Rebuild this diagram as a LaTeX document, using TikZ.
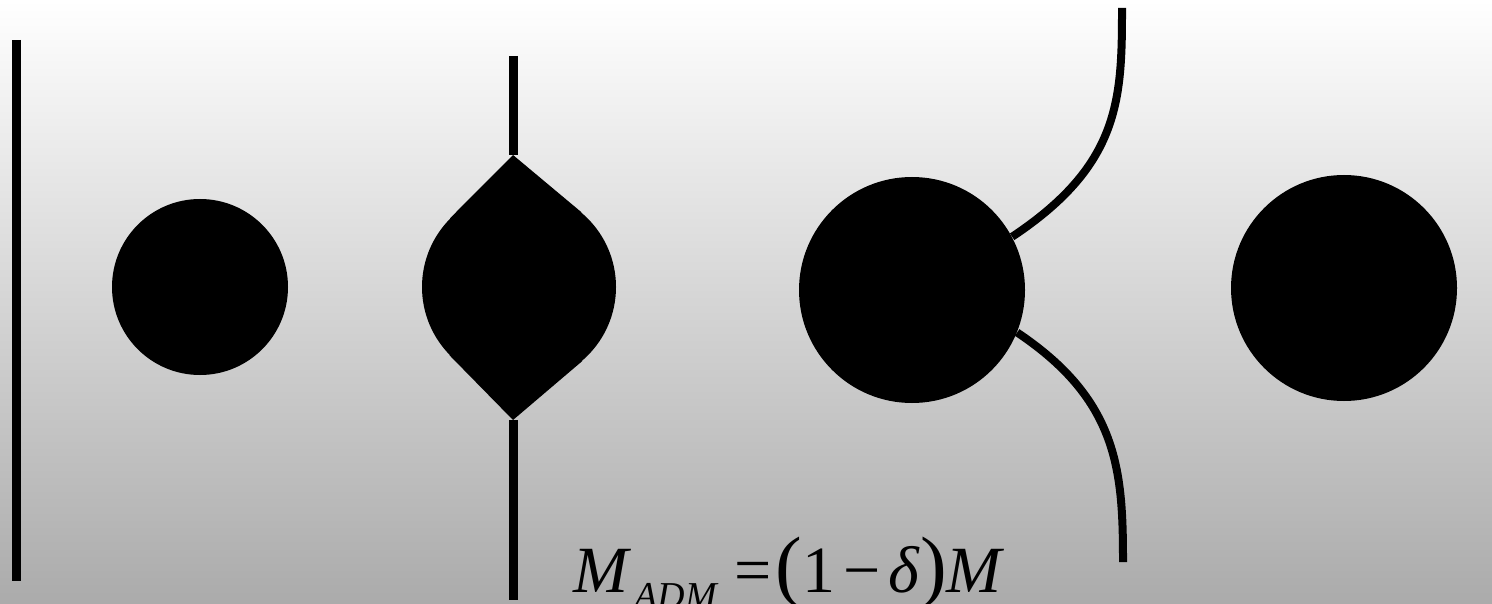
\documentclass[tikz,border=0pt]{standalone}
\usepackage{fontspec}
\setmainfont{Liberation Serif}
\usetikzlibrary{calc}
\begin{document}
\begin{tikzpicture}[x=0.5pt,y=-0.5pt,hole/.style={circle,fill=black,inner sep=0pt,minimum size=#1},rod/.style={line width=4.5pt,black},jet/.style={line width=4pt,black}]
\shade[top color=white,bottom color=black!33] (0,0) rectangle (1492,604);
\useasboundingbox (0,0) rectangle (1492,604);
% bare string
\coordinate (wallTop) at (16.5,40);\coordinate (wallBot) at (16.5,581);
\draw[rod](wallTop)--(wallBot);
% black holes
\node[hole=88pt] (bhA) at (200,287) {};
\node[hole=97pt] (bhB) at (519,287) {};
\node[hole=113pt] (bhC) at (912,290) {};
\node[hole=113pt] (bhD) at (1344,288) {};
% pinched hole on a string
\coordinate (lensTop) at (513,155);\coordinate (lensBot) at (513,420);
\coordinate (stemTop) at (513,56);\coordinate (stemBot) at (513,600);
\fill (lensTop)--(tangent cs:node=bhB,point={(lensTop)},solution=1)--(bhB.center)--(tangent cs:node=bhB,point={(lensTop)},solution=2)--cycle;
\fill (lensBot)--(tangent cs:node=bhB,point={(lensBot)},solution=1)--(bhB.center)--(tangent cs:node=bhB,point={(lensBot)},solution=2)--cycle;
\draw[rod](stemTop)--(lensTop);\draw[rod](lensBot)--(stemBot);
% outgoing jets
\coordinate (jetTop) at (1122,8);\coordinate (jetBot) at (1123,562);
\draw[jet](bhC.28) .. controls (1120,165) and (1122,100) .. (jetTop);
\draw[jet](bhC.-22) .. controls (1118,400) and (1123,470) .. (jetBot);
\node[anchor=base west,inner sep=0pt,font=\fontsize{33}{36}\selectfont] (madm) at (573,592) {\textit{M}\hspace{1.5pt}\raisebox{-8pt}{\fontsize{19}{20}\selectfont\textit{ADM}}\hspace{8pt}=\hspace{2pt}{\fontsize{40}{44}\selectfont(}1\hspace{4pt}−\hspace{4pt}\textit{δ}{\fontsize{40}{44}\selectfont)}\textit{M}};
\end{tikzpicture}
\end{document}
